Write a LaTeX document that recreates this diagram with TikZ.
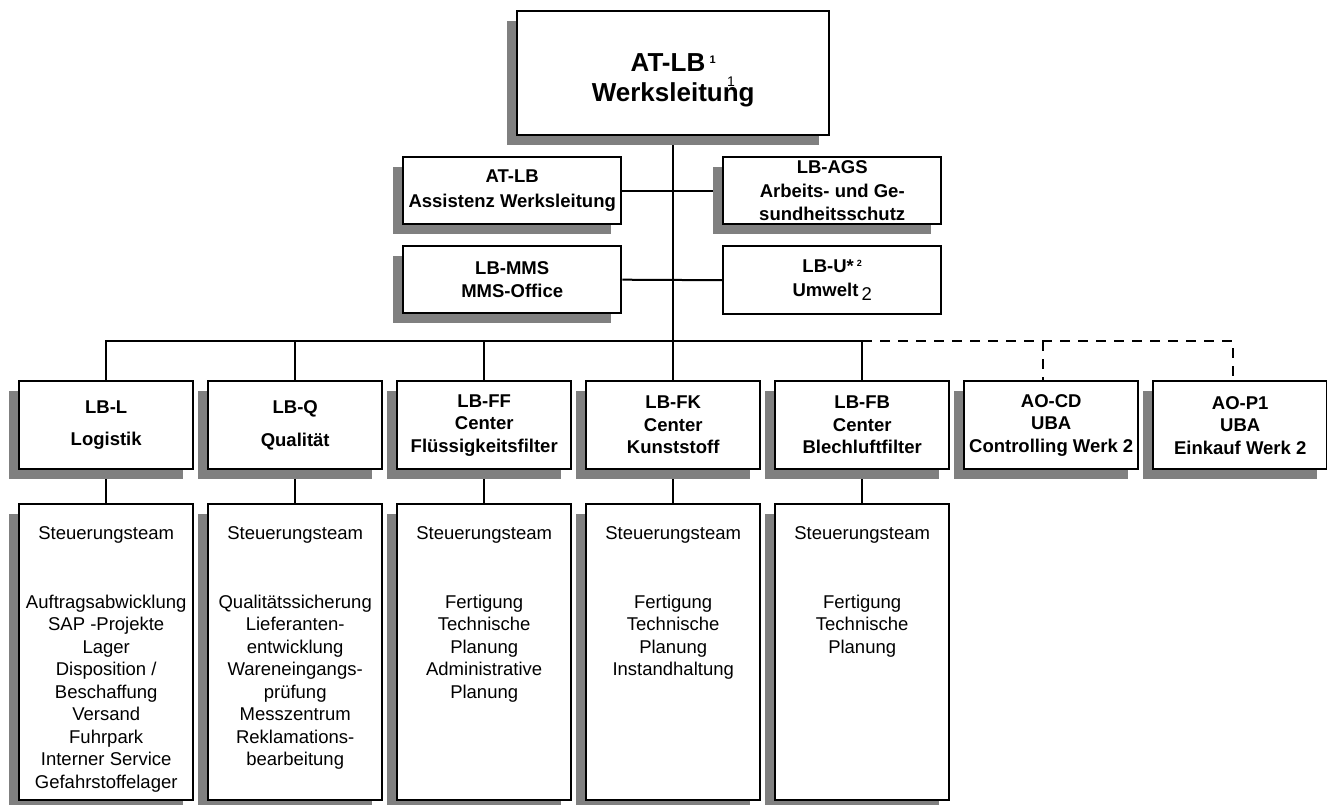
\documentclass[tikz,border=0pt]{standalone}
\usepackage{fontspec}
\setmainfont{Liberation Sans}
\usetikzlibrary{shadows,calc,backgrounds}
\definecolor{shadowgray}{RGB}{128,128,128}
\newcommand{\lowlist}[1]{\begin{minipage}[t][296pt][t]{174pt}\centering\vspace*{22pt}#1\end{minipage}}
\begin{document}
\begin{tikzpicture}[x=1pt,y=-1pt,
 base/.style={draw=black, line width=2.4pt, fill=white, anchor=north west, inner sep=0pt, align=center, font=\bfseries\fontsize{18.5}{22.5}\selectfont},
 shad/.style={base, drop shadow={shadow xshift=-10pt, shadow yshift=-10pt, fill=shadowgray, opacity=1}},
 staff/.style={shad, minimum width=218pt, minimum height=67pt},
 head/.style={shad, minimum width=174pt, minimum height=88pt},
 low/.style={shad, minimum width=174pt, minimum height=296pt, font=\fontsize{18.5}{22.5}\selectfont},
 conn/.style={line width=2pt, black},
 dconn/.style={conn, dash pattern=on 10pt off 8pt},
]
\useasboundingbox (0,0) rectangle (1327,805);

% top
\node[shad, minimum width=312pt, minimum height=124pt, font=\bfseries\fontsize{26}{30}\selectfont] (top) at (516,10)
  {\raisebox{-7pt}[\height][\depth]{\begin{tabular}{@{}c@{}}AT-LB\,\raisebox{8pt}{\fontsize{11}{11}\selectfont 1}\\Werksleitung\end{tabular}}};
\node[font=\fontsize{14}{14}\selectfont, inner sep=0pt] (strayone) at (731,82) {1};

% staff
\node[staff] (atlb) at (402,156) {AT-LB\\[2pt]Assistenz Werksleitung};
\node[staff] (ags) at (722,156) {LB-AGS\\[1pt]Arbeits- und Ge-\\[1pt]sundheitsschutz};
\node[staff] (mms) at (402,245) {LB-MMS\\[1pt]MMS-Office};
\node[base, minimum width=218pt, minimum height=68pt] (lbu) at (722,245)
  {LB-U*\,\raisebox{6pt}{\fontsize{9}{9}\selectfont 2}\\[1pt]Umwelt\,\raisebox{-4pt}{\mdseries 2}};

% head row
\node[head] (hL) at (18,380) {LB-L\\[10pt]Logistik};
\node[head] (hQ) at (207,380) {LB-Q\\[10pt]Qualität};
\node[head] (hFF) at (396,380) {LB-FF\\Center\\Flüssigkeitsfilter};
\node[head] (hFK) at (585,380) {LB-FK\\Center\\Kunststoff};
\node[head] (hFB) at (774,380) {LB-FB\\Center\\Blechluftfilter};
\node[head] (aoCD) at (963,380) {AO-CD\\UBA\\Controlling Werk 2};
\node[head] (aoP) at (1152,380) {AO-P1\\UBA\\Einkauf Werk 2};

% lower boxes
\node[low] (tL) at (18,503) {\lowlist{Steuerungsteam\\[46.5pt]Auftragsabwicklung\\SAP -Projekte\\Lager\\Disposition /\\Beschaffung\\Versand\\Fuhrpark\\Interner Service\\Gefahrstoffelager}};
\node[low] (tQ) at (207,503) {\lowlist{Steuerungsteam\\[46.5pt]Qualitätssicherung\\Lieferanten-\\entwicklung\\Wareneingangs-\\prüfung\\Messzentrum\\Reklamations-\\bearbeitung}};
\node[low] (tFF) at (396,503) {\lowlist{Steuerungsteam\\[46.5pt]Fertigung\\Technische\\Planung\\Administrative\\Planung}};
\node[low] (tFK) at (585,503) {\lowlist{Steuerungsteam\\[46.5pt]Fertigung\\Technische\\Planung\\Instandhaltung}};
\node[low] (tFB) at (774,503) {\lowlist{Steuerungsteam\\[46.5pt]Fertigung\\Technische\\Planung}};

\coordinate (bus) at (672,341);

\begin{scope}[on background layer]
\draw[conn] (top.south) -- (hFK.north);
\draw[conn] (atlb.east) -- (ags.west);
\draw[conn] (mms.east) -- (lbu.west);
\draw[conn] (hL.north) |- (bus) -| (hFB.north);
\draw[conn] (hQ.north) -- (hQ.north |- bus);
\draw[conn] (hFF.north) -- (hFF.north |- bus);
\draw[dconn] (hFB.north |- bus) -| ([xshift=-7pt]aoP.north);
\draw[dconn] ([xshift=-8pt]aoCD.north |- bus) -- ([xshift=-8pt]aoCD.north);
\draw[conn] (hL.south) -- (tL.north);
\draw[conn] (hQ.south) -- (tQ.north);
\draw[conn] (hFF.south) -- (tFF.north);
\draw[conn] (hFK.south) -- (tFK.north);
\draw[conn] (hFB.south) -- (tFB.north);
\end{scope}
\end{tikzpicture}
\end{document}
